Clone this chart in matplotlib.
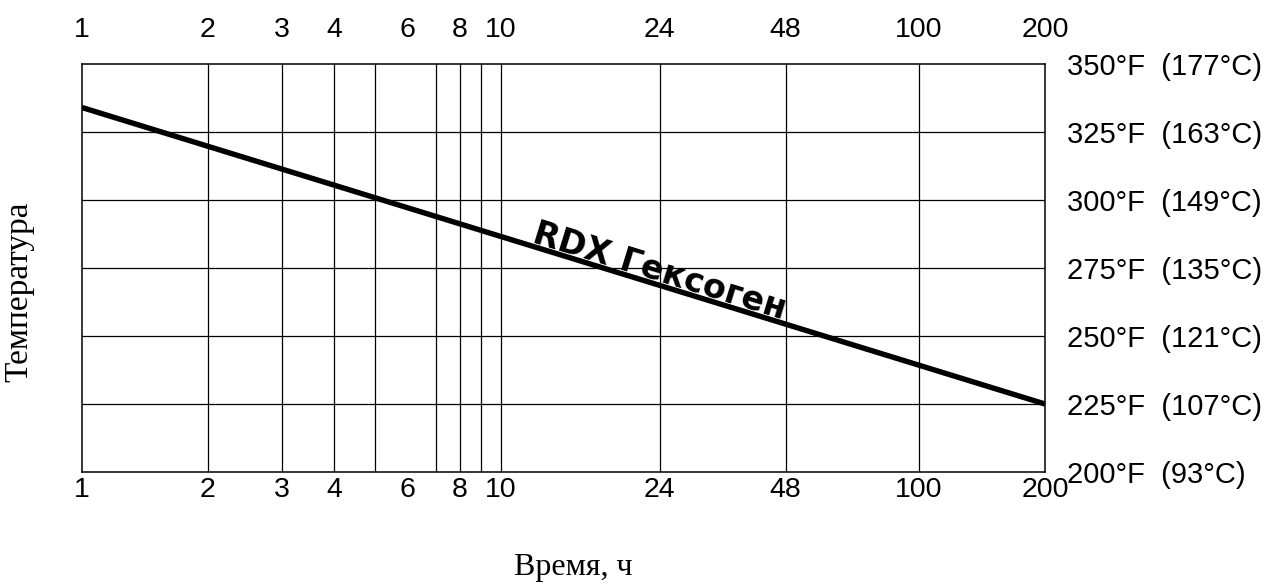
import numpy as np
import matplotlib
matplotlib.use("Agg")
import matplotlib.pyplot as plt
import matplotlib.transforms as mtransforms
from matplotlib.ticker import FixedLocator, NullLocator

# ---- data ----
hours = [1, 200]
temp_f = [334, 225]
series_label = "RDX Гексоген"
x_tick_values = [1, 2, 3, 4, 6, 8, 10, 24, 48, 100, 200]
x_tick_labels = ["1", "2", "3", "4", "6", "8", "10", "24", "48", "100", "200"]
x_grid_values = [2, 3, 4, 5, 7, 8, 9, 10, 24, 48, 100]
y_tick_values = [200, 225, 250, 275, 300, 325, 350]
y_tick_labels = ["200°F  (93°C)", "225°F  (107°C)", "250°F  (121°C)",
                 "275°F  (135°C)", "300°F  (149°C)", "325°F  (163°C)",
                 "350°F  (177°C)"]
x_label = "Время, ч"
y_label = "Температура"

plt.rcParams['font.family'] = ['Liberation Sans', 'DejaVu Sans']

fig = plt.figure(figsize=(12.77, 5.88), dpi=100)
ax = fig.add_axes([82 / 1277, 1 - 472 / 588, (1045 - 82) / 1277, (472 - 64) / 588])

ax.set_xscale('log')
ax.set_xlim(1, 200)
ax.set_ylim(200, 350)

# grid lines
for gx in x_grid_values:
    ax.axvline(gx, color='black', lw=0.9, zorder=1)
for gy in y_tick_values[1:-1]:
    ax.axhline(gy, color='black', lw=0.9, zorder=1)

for s in ax.spines.values():
    s.set_linewidth(1.1)

# main line
ax.plot(hours, temp_f, color='black', lw=3.9, solid_capstyle='butt', zorder=3)

# x ticks (bottom and top)
ax.xaxis.set_major_locator(FixedLocator(x_tick_values))
ax.xaxis.set_minor_locator(NullLocator())
ax.set_xticklabels(x_tick_labels)
ax.tick_params(axis='x', which='both', length=0, labelsize=20.5, pad=3.5,
               top=False, labeltop=True, bottom=False, labelbottom=True)

# y ticks on the right
ax.yaxis.tick_right()
ax.yaxis.set_major_locator(FixedLocator(y_tick_values))
ax.yaxis.set_minor_locator(NullLocator())
ax.set_yticklabels(y_tick_labels)
ax.tick_params(axis='y', which='both', length=0, labelsize=21, pad=16,
               left=False, right=False, labelleft=False, labelright=True)

# axis titles (serif)
ax.set_xlabel(x_label, family=['Liberation Serif', 'DejaVu Serif'], fontsize=23)
ax.xaxis.set_label_coords((573.5 - 82) / 963, -0.199)
ax.yaxis.set_label_position('left')
ax.set_ylabel(y_label, family=['Liberation Serif', 'DejaVu Serif'], fontsize=24)
ax.yaxis.set_label_coords(-0.049, 0.441)

# rotated series label along the line
p0 = ax.transData.transform((hours[0], temp_f[0]))
p1 = ax.transData.transform((hours[-1], temp_f[-1]))
ang = np.degrees(np.arctan2(p1[1] - p0[1], p1[0] - p0[0]))
tx = 23.5
frac = (np.log10(tx) - np.log10(hours[0])) / (np.log10(hours[-1]) - np.log10(hours[0]))
ty = temp_f[0] + frac * (temp_f[-1] - temp_f[0])
d = 2.5
r = np.radians(ang)
ax.annotate(series_label, xy=(tx, ty), xytext=(-np.sin(r) * d, np.cos(r) * d),
            textcoords='offset points', rotation=ang, rotation_mode='anchor',
            ha='center', va='baseline', fontsize=24, fontweight='bold',
            family=['DejaVu Sans'], zorder=4)

# push top tick labels further up
for t in ax.xaxis.get_major_ticks():
    t.label2.set_transform(t.label2.get_transform() +
                           mtransforms.ScaledTranslation(0, 11.5 / 72, fig.dpi_scale_trans))

fig.savefig('out.png', dpi=100)
